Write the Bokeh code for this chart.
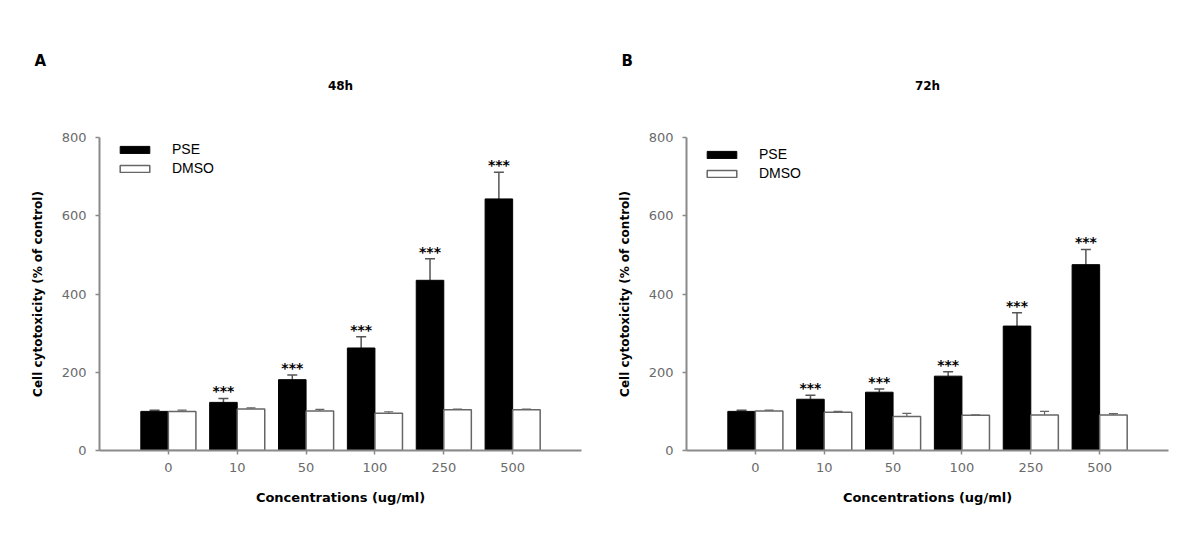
from bokeh.plotting import figure
from bokeh.models import (ColumnDataSource, Legend, LegendItem, Whisker,
                          TeeHead, FixedTicker, Range1d, Title)
from bokeh.core.properties import value
from bokeh.layouts import row
from bokeh.embed import file_html
from bokeh.resources import INLINE

# ---------------- data ----------------
concentrations = ["0", "10", "50", "100", "250", "500"]

pse_48 = [100, 123, 181, 262, 435, 643]
pse_48_err = [3, 10, 12, 29, 55, 68]
dmso_48 = [100, 106, 101, 95, 104, 104]
dmso_48_err = [3, 3, 4, 4, 2, 2]

pse_72 = [100, 131, 149, 190, 318, 475]
pse_72_err = [3, 10, 8, 11, 34, 39]
dmso_72 = [101, 98, 87, 90, 91, 91]
dmso_72_err = [2, 2, 8, 1, 9, 3]

signif_48 = ["", "***", "***", "***", "***", "***"]
signif_72 = ["", "***", "***", "***", "***", "***"]

panels = [
    dict(letter="A", title="48h", pse=pse_48, pse_err=pse_48_err,
         dmso=dmso_48, dmso_err=dmso_48_err, sig=signif_48,
         width=595, border_left=99, border_right=14, legend_y=274),
    dict(letter="B", title="72h", pse=pse_72, pse_err=pse_72_err,
         dmso=dmso_72, dmso_err=dmso_72_err, sig=signif_72,
         width=600, border_left=91, border_right=27, legend_y=269),
]

FONT = "DejaVu Sans"
LFONT = "Liberation Sans"
AXIS_COLOR = "#8a8a8a"
TICK_TEXT = "#6a6a6a"
BAR_W = 0.4


def make_panel(cfg):
    n = len(concentrations)
    idx = list(range(n))
    p = figure(width=cfg["width"], height=544, output_backend="svg",
               toolbar_location=None, x_range=Range1d(-1, n),
               y_range=Range1d(0, 800),
               min_border_left=cfg["border_left"], min_border_right=cfg["border_right"],
               min_border_top=137, min_border_bottom=94)
    p.outline_line_color = None
    p.grid.visible = False
    p.background_fill_color = "white"
    p.border_fill_color = "white"

    pse_src = ColumnDataSource(dict(
        x=[i - BAR_W / 2 for i in idx], top=cfg["pse"],
        upper=[v + e for v, e in zip(cfg["pse"], cfg["pse_err"])],
        sig=cfg["sig"]))
    dmso_src = ColumnDataSource(dict(
        x=[i + BAR_W / 2 for i in idx], top=cfg["dmso"],
        upper=[v + e for v, e in zip(cfg["dmso"], cfg["dmso_err"])]))

    r_pse = p.vbar(x="x", top="top", bottom=0, width=BAR_W, source=pse_src,
                   fill_color="black", line_color="black", line_width=1)
    r_dmso = p.vbar(x="x", top="top", bottom=0, width=BAR_W, source=dmso_src,
                    fill_color="white", line_color="#666666", line_width=1.5)

    p.add_layout(Whisker(base="x", lower="top", upper="upper", source=pse_src,
                         line_color="#555555", line_width=1.5,
                         upper_head=TeeHead(size=10, line_color="#555555", line_width=1.5),
                         lower_head=None))
    p.add_layout(Whisker(base="x", lower="top", upper="upper", source=dmso_src,
                         line_color="#666666", line_width=1.2,
                         upper_head=TeeHead(size=9, line_color="#666666", line_width=1.2),
                         lower_head=None))

    p.text(x="x", y="upper", text="sig", source=pse_src, text_align="center",
           text_baseline="middle", text_font_size="14px", text_font_style="bold",
           text_color="black", y_offset=-7, text_font=value(FONT))

    # axes
    p.xaxis.ticker = FixedTicker(ticks=idx)
    p.xaxis.major_label_overrides = {i: c for i, c in zip(idx, concentrations)}
    p.yaxis.ticker = FixedTicker(ticks=[0, 200, 400, 600, 800])
    for ax in (p.xaxis, p.yaxis):
        ax.axis_line_color = AXIS_COLOR
        ax.axis_line_width = 2
        ax.major_tick_line_color = AXIS_COLOR
        ax.major_tick_line_width = 1.5
        ax.major_tick_out = 4
        ax.major_tick_in = 0
        ax.minor_tick_line_color = None
        ax.major_label_text_font = FONT
        ax.major_label_text_font_size = "13px"
        ax.major_label_text_color = TICK_TEXT
        ax.axis_label_text_font = FONT
        ax.axis_label_text_font_style = "bold"
        ax.axis_label_text_color = "black"
    p.xaxis.major_label_standoff = 8
    p.yaxis.major_label_standoff = 9
    p.xaxis.axis_label = "Concentrations (ug/ml)"
    p.xaxis.axis_label_text_font_size = "13px"
    p.xaxis.axis_label_standoff = 15
    p.yaxis.axis_label = "Cell cytotoxicity (% of control)"
    p.yaxis.axis_label_text_font_size = "12px"
    p.yaxis.axis_label_standoff = 14

    # legend
    legend = Legend(items=[LegendItem(label="PSE", renderers=[r_pse]),
                           LegendItem(label="DMSO", renderers=[r_dmso])],
                    location=(17, cfg["legend_y"]), glyph_width=37, glyph_height=9,
                    label_height=13, spacing=3, padding=0, margin=0,
                    label_standoff=19, border_line_color=None,
                    background_fill_alpha=0, label_text_font=LFONT,
                    label_text_font_size="14px", label_text_color="black")
    p.add_layout(legend, "center")

    # titles (stacked outward from the frame)
    p.add_layout(Title(text=" ", text_font_size="1px", standoff=40), "above")
    p.add_layout(Title(text=cfg["title"], align="center", text_font=FONT,
                       text_font_size="12px", text_font_style="bold",
                       text_color="black", standoff=4), "above")
    p.add_layout(Title(text=cfg["letter"], align="left", offset=-65,
                       text_font=FONT, text_font_size="15px",
                       text_font_style="bold", text_color="black",
                       standoff=9), "above")
    return p


figs = [make_panel(c) for c in panels]
layout = row(*figs)
open("out.html", "w").write(file_html(layout, INLINE))
